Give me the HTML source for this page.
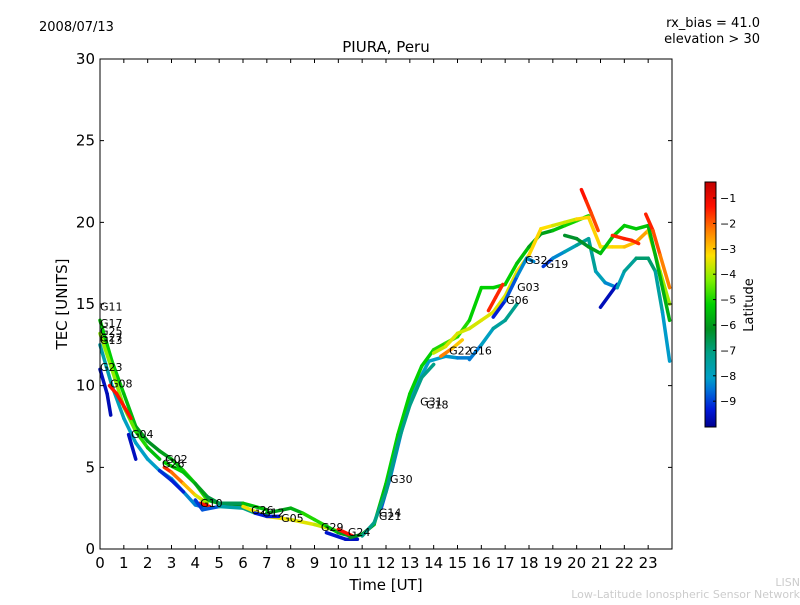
<!DOCTYPE html>
<html><head><meta charset="utf-8"><style>
body{margin:0;background:#fff;font-family:"Liberation Sans","DejaVu Sans",sans-serif}
svg text{font-family:"DejaVu Sans","Liberation Sans",sans-serif}
</style></head><body>
<svg id="c" width="800" height="600" viewBox="0 0 800 600">
<defs>
<linearGradient id="cbg" x1="0" y1="1" x2="0" y2="0">
<stop offset="0" stop-color="#00008f"/><stop offset="0.07" stop-color="#0018d8"/>
<stop offset="0.15" stop-color="#0070d8"/><stop offset="0.2" stop-color="#00a0c8"/>
<stop offset="0.3" stop-color="#00a088"/><stop offset="0.4" stop-color="#009020"/>
<stop offset="0.5" stop-color="#00d000"/><stop offset="0.6" stop-color="#80f000"/>
<stop offset="0.7" stop-color="#ffe000"/><stop offset="0.8" stop-color="#ff8000"/>
<stop offset="0.9" stop-color="#ff1000"/><stop offset="1" stop-color="#c00000"/>
</linearGradient>
</defs>
<text x="39" y="31" font-size="13">2008/07/13</text>
<text x="760" y="27" font-size="13" text-anchor="end">rx_bias = 41.0</text>
<text x="760" y="43" font-size="13" text-anchor="end">elevation &gt; 30</text>
<text x="386" y="52" font-size="15" text-anchor="middle">PIURA, Peru</text>
<g id="plot"></g>
<rect x="100" y="59" width="572" height="490" fill="none" stroke="#000" stroke-width="1"/>
<g id="axes"></g>
<text x="386" y="590" font-size="15" text-anchor="middle">Time [UT]</text>
<text transform="translate(67,304) rotate(-90)" font-size="15" text-anchor="middle">TEC [UNITS]</text>
<rect x="705" y="182" width="11" height="245" fill="url(#cbg)" stroke="#000" stroke-width="1"/>
<g id="cbticks"></g>
<text transform="translate(753,305) rotate(-90)" font-size="13" text-anchor="middle">Latitude</text>
<text x="800" y="586" font-size="11" fill="#ccc" text-anchor="end">LISN</text>
<text x="800" y="598" font-size="11" fill="#ccc" text-anchor="end">Low-Latitude Ionospheric Sensor Network</text>
</svg>
<script>
const xTicks=[0,1,2,3,4,5,6,7,8,9,10,11,12,13,14,15,16,17,18,19,20,21,22,23];
const yTicks=[0,5,10,15,20,25,30];
const latTicks=[-1,-2,-3,-4,-5,-6,-7,-8,-9];
const tracks=[
 {t:[0,0.5,1,1.5,2,2.5,3,3.5,4,4.5,5,6],v:[14,11.5,9.5,7.5,6.6,6,5.5,4.8,4,3,2.8,2.7],l:[-5,-5,-5.2,-5.5,-6,-6,-5.5,-5,-4.5,-5,-6,-6]},
 {t:[0,0.5,1,1.5,2,2.5],v:[13.2,11,8.7,7.2,6.2,5.5],l:[-4,-3.8,-4,-4.5,-5,-5.5]},
 {t:[0,0.5,1,1.5,2,2.5,3,3.5,4,4.5],v:[12.5,10,8,6.5,5.5,4.8,4.3,3.5,2.7,2.5],l:[-7.5,-7.6,-7.8,-8,-8,-8,-8,-8.2,-8.3,-8.5]},
 {t:[0,0.3,0.45],v:[11,9.5,8.2],l:[-9.5,-9.6,-9.7]},
 {t:[0.4,0.7,1.3],v:[10,9.5,8],l:[-1,-1,-1]},
 {t:[1.2,1.5],v:[7,5.5],l:[-9.5,-9.6]},
 {t:[2.7,3.5,4,4.5,5,6,7],v:[5.3,4.7,4,3.2,2.8,2.8,2.4],l:[-5,-5,-5.5,-6,-6.5,-6.5,-4]},
 {t:[2.7,3,3.5,4,4.3,4.5],v:[5,4.7,4,3.3,3,2.8],l:[-1,-1.5,-2.2,-3,-3.5,-4]},
 {t:[2.5,3,3.5],v:[4.8,4.2,3.5],l:[-9,-9.2,-9.3]},
 {t:[4.2,4.6],v:[2.8,2.6],l:[-1,-1]},
 {t:[4,4.3,5,6,6.5],v:[3,2.4,2.6,2.5,2.2],l:[-8.5,-9.5,-8,-7,-7]},
 {t:[6,7,8,9,10],v:[2.6,2.0,1.8,1.5,1.1],l:[-3,-3.2,-3,-3.5,-3.5]},
 {t:[7,8,8.5,9,9.5,10,10.5],v:[2.2,2.5,2.2,1.8,1.4,1.0,0.8],l:[-5.5,-6,-5,-4.5,-5,-5.5,-6]},
 {t:[6.5,7,7.5],v:[2.2,2.0,2.0],l:[-9.3,-9.3,-9.3]},
 {t:[9.5,10.3,10.8],v:[1.0,0.6,0.6],l:[-9.3,-9.5,-9.5]},
 {t:[10,10.6],v:[1.2,0.8],l:[-1,-1]},
 {t:[11.8,12.2,12.7,13.2,13.8,14.5,15,15.5],v:[2.5,4.5,7.5,9.8,11.5,11.8,11.7,11.7],l:[-9,-8.5,-8.2,-8,-8,-8,-8.2,-8.5]},
 {t:[10.5,11,11.5,12,12.5,13,13.5,14,14.5,15,15.5,16,16.5,17,17.5,18,18.5,19,19.5,20,20.5],v:[0.7,0.9,1.5,4,7,9.5,11.2,12.2,12.6,13,14,16,16,16.2,17.5,18.5,19.3,19.5,19.8,20.1,20.4],l:[-6,-6,-5.5,-5,-5,-5,-5,-5,-4.5,-4.5,-5,-5,-5,-5,-5,-5.5,-6,-5.5,-5,-4.8,-4.5]},
 {t:[11,11.5,12,12.5,13,13.5,14],v:[0.8,1.6,3.5,6.5,8.8,10.5,11.3],l:[-7,-7,-7,-7,-7,-7,-7]},
 {t:[14,14.5,15,15.5,16,16.5,17,17.5,18,18.5,19,19.5,20,20.5,21,21.5,22,22.5,23,23.5,23.9],v:[12,12.4,13.2,13.5,14,14.5,15.5,17,18,19.6,19.8,20,20.2,20.3,18.5,18.5,18.5,18.8,19.5,17,15],l:[-4,-3,-3.5,-3.2,-3.5,-3,-3.5,-3,-3,-2.8,-3.2,-3.5,-3.3,-2.5,-3.2,-3,-2.8,-2.5,-2.2,-3.5,-4]},
 {t:[14.3,14.8,15.2],v:[11.8,12.3,12.8],l:[-1.5,-2.5,-3]},
 {t:[15.5,16,16.5,17,17.5],v:[11.6,12.5,13.5,14,15],l:[-8.5,-8.3,-7.5,-7.2,-7]},
 {t:[16.3,16.6,16.9],v:[14.6,15.4,16.2],l:[-1.2,-1.2,-1.2]},
 {t:[16.5,17,17.5,17.9,18.2],v:[14.2,15.2,16.7,17.8,17.6],l:[-9.5,-9,-8.5,-8,-8.5]},
 {t:[18.6,19,19.5,20,20.5,20.8,21.2,21.7],v:[17.3,17.8,18.2,18.6,19,17,16.3,16],l:[-9.5,-8.5,-8,-7.5,-7,-7.5,-8,-8.5]},
 {t:[21,21.7],v:[14.8,16.2],l:[-9.6,-9.6]},
 {t:[21.7,22,22.5,23,23.3,23.6,23.9],v:[16,17,17.8,17.8,17,14.5,11.5],l:[-8,-7.5,-7,-6.5,-7,-7.8,-8.3]},
 {t:[19.5,20,20.5,21,21.5,22,22.5,23,23.3,23.9],v:[19.2,19,18.5,18.1,19.1,19.8,19.6,19.8,18,14],l:[-6,-6.2,-6,-5.5,-5,-5.2,-5,-5.3,-5.5,-5.5]},
 {t:[20.2,20.4,20.6,20.9],v:[22,21.3,20.6,19.5],l:[-1,-1,-1.5,-1.5]},
 {t:[22.9,23.2,23.5,23.9],v:[20.5,19.5,18,16],l:[-1,-1.3,-1.8,-2.2]},
 {t:[21.5,22,22.3,22.6],v:[19.2,19,18.9,18.7],l:[-1.2,-1.2,-1,-1.5]}
];
const labelNames=["G11","G17","G25","G27","G13","G23","G08","G04","G02","G26","G10","G26","G12","G05","G29","G24","G14","G21","G30","G31","G18","G22","G16","G03","G06","G32","G19"];
const labelT=[0,0,0,0,0,0,0.42,1.3,2.73,2.6,4.2,6.34,6.8,7.6,9.27,10.4,11.7,11.7,12.17,13.43,13.68,14.65,15.5,17.5,17.04,17.83,18.7];
const labelV=[14.6,13.6,13.1,12.7,12.55,10.9,9.9,6.8,5.27,5.0,2.57,2.14,2.0,1.65,1.1,0.8,2.0,1.78,4.04,8.8,8.6,11.9,11.9,15.8,15.0,17.45,17.2];
const NS="http://www.w3.org/2000/svg";
const X=t=>100+t*572/24, Y=v=>549-v*490/30, LY=l=>198+(-1-l)*25.4;
const stops=[[-10,[0,0,143]],[-9.3,[0,24,216]],[-8.5,[0,112,216]],[-8,[0,160,200]],[-7,[0,160,136]],[-6,[0,144,32]],[-5,[0,208,0]],[-4,[128,240,0]],[-3,[255,224,0]],[-2,[255,128,0]],[-1,[255,16,0]],[-0.3,[192,0,0]]];
function col(l){if(l<=stops[0][0])return 'rgb(0,0,143)';for(let i=1;i<stops.length;i++){if(l<=stops[i][0]){const a=stops[i-1],b=stops[i],f=(l-a[0])/(b[0]-a[0]);return 'rgb('+a[1].map((c,k)=>Math.round(c+(b[1][k]-c)*f)).join(',')+')';}}return 'rgb(192,0,0)';}
const plot=document.getElementById('plot'),axes=document.getElementById('axes'),cb=document.getElementById('cbticks');
tracks.forEach((tr,ti)=>{
 const g=document.createElementNS(NS,'g');
 
 
 for(let i=0;i<tr.t.length-1;i++){
  const ln=document.createElementNS(NS,'line');
  ln.setAttribute('x1',X(tr.t[i]));ln.setAttribute('y1',Y(tr.v[i]));
  ln.setAttribute('x2',X(tr.t[i+1]));ln.setAttribute('y2',Y(tr.v[i+1]));
  ln.setAttribute('stroke',col((tr.l[i]+tr.l[i+1])/2));ln.setAttribute('stroke-width','3.5');ln.setAttribute('stroke-linecap','round');
  
  
  g.appendChild(ln);
 }
 plot.appendChild(g);
});
labelNames.forEach((n,i)=>{
 const t=document.createElementNS(NS,'text');
 t.setAttribute('x',X(labelT[i]));t.setAttribute('y',Y(labelV[i]));t.setAttribute('font-size','11');t.textContent=n;
 
 
 plot.appendChild(t);
});
xTicks.forEach(v=>{
 const x=X(v);
 const a=document.createElementNS(NS,'path');a.setAttribute('d',`M${x},549v-4M${x},59v4`);a.setAttribute('stroke','#000');
 
 
 axes.appendChild(a);
 const t=document.createElementNS(NS,'text');t.setAttribute('x',x);t.setAttribute('y',568);t.setAttribute('font-size','15');t.setAttribute('text-anchor','middle');t.textContent=v;
 
 
 axes.appendChild(t);
});
yTicks.forEach(v=>{
 const y=Y(v);
 const a=document.createElementNS(NS,'path');a.setAttribute('d',`M100,${y}h4M672,${y}h-4`);a.setAttribute('stroke','#000');
 
 
 axes.appendChild(a);
 const t=document.createElementNS(NS,'text');t.setAttribute('x',95);t.setAttribute('y',y+5);t.setAttribute('font-size','15');t.setAttribute('text-anchor','end');t.textContent=v;
 
 
 axes.appendChild(t);
});
latTicks.forEach(v=>{
 const y=LY(v);
 const a=document.createElementNS(NS,'path');a.setAttribute('d',`M716,${y}h-3`);a.setAttribute('stroke','#000');
 
 
 cb.appendChild(a);
 const t=document.createElementNS(NS,'text');t.setAttribute('x',720);t.setAttribute('y',y+4);t.setAttribute('font-size','11');t.textContent='\u2212'+(-v);
 
 
 cb.appendChild(t);
});
</script>
</body></html>
